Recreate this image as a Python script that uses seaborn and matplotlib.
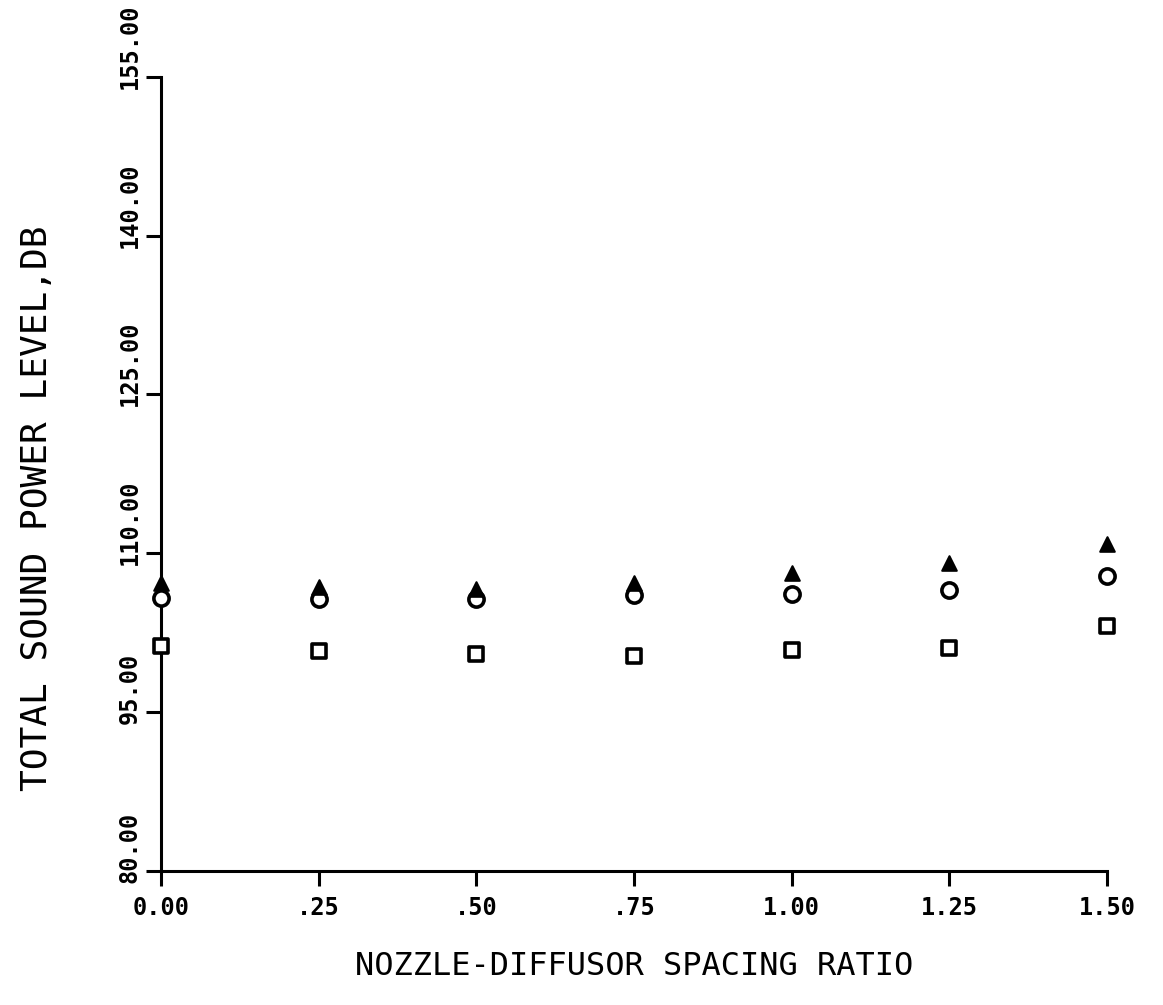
import numpy as np
import pandas as pd
import seaborn as sns
import matplotlib
matplotlib.use("Agg")
import matplotlib.pyplot as plt
from matplotlib.transforms import ScaledTranslation

# spacing ratio and sound power levels
spacing = [0.00, 0.25, 0.50, 0.75, 1.00, 1.25, 1.50]
level_triangle = [107.2, 106.8, 106.6, 107.2, 108.1, 109.1, 110.9]
level_circle = [105.8, 105.7, 105.7, 106.1, 106.2, 106.5, 107.9]
level_square = [101.2, 100.8, 100.5, 100.3, 100.9, 101.1, 103.1]

xticks = [0.0, 0.25, 0.5, 0.75, 1.0, 1.25, 1.5]
xticklabels = ["0.00", ".25", ".50", ".75", "1.00", "1.25", "1.50"]
yticks = [80, 95, 110, 125, 140, 155]
yticklabels = ["80.00", "95.00", "110.00", "125.00", "140.00", "155.00"]

df = pd.DataFrame({
    "spacing": spacing * 3,
    "level": level_triangle + level_circle + level_square,
    "symbol": ["tri"] * 7 + ["circ"] * 7 + ["sq"] * 7,
})

sns.set_style("white")
plt.rcParams["font.family"] = ["DejaVu Sans Mono", "DejaVu Sans"]
plt.rcParams["text.color"] = "black"
plt.rcParams["axes.labelcolor"] = "black"

fig = plt.figure(figsize=(11.63, 10.05), dpi=100)
ax = fig.add_axes([0.1384, 0.1333, 0.9518 - 0.1384, 0.9237 - 0.1333])

styles = {
    "sq": dict(marker="s", s=110, facecolor="white", edgecolor="black", linewidth=2.6),
    "circ": dict(marker="o", s=120, facecolor="white", edgecolor="black", linewidth=2.6),
    "tri": dict(marker="^", s=110, facecolor="black", edgecolor="black", linewidth=1.5),
}
for key in ["sq", "circ", "tri"]:
    sub = df[df["symbol"] == key]
    sns.scatterplot(data=sub, x="spacing", y="level", ax=ax, clip_on=False,
                    zorder=3, legend=False, **styles[key])

ax.set_xlim(0, 1.5)
ax.set_ylim(80, 155)
sns.despine(ax=ax)
for side in ["left", "bottom"]:
    ax.spines[side].set_linewidth(2.2)
    ax.spines[side].set_color("black")

ax.set_xticks(xticks)
ax.set_xticklabels(xticklabels, fontsize=17, fontweight="bold")
ax.set_yticks(yticks)
ax.set_yticklabels(yticklabels, fontsize=17, fontweight="bold",
                   rotation=90, va="bottom")
ax.tick_params(axis="both", direction="out", length=11, width=2.2,
               color="black", labelcolor="black")
ax.tick_params(axis="x", pad=7, bottom=True)
ax.tick_params(axis="y", pad=3, left=True)

# y tick labels sit just above their ticks
off = ScaledTranslation(0, -0.12, fig.dpi_scale_trans)
for lab in ax.get_yticklabels():
    lab.set_transform(lab.get_transform() + off)

ax.set_xlabel("NOZZLE-DIFFUSOR SPACING RATIO", fontsize=23, labelpad=22)
ax.set_ylabel("TOTAL SOUND POWER LEVEL,DB", fontsize=26)
ax.yaxis.set_label_coords(-0.113, 0.457)

fig.savefig("out.png", dpi=100, facecolor="white")
